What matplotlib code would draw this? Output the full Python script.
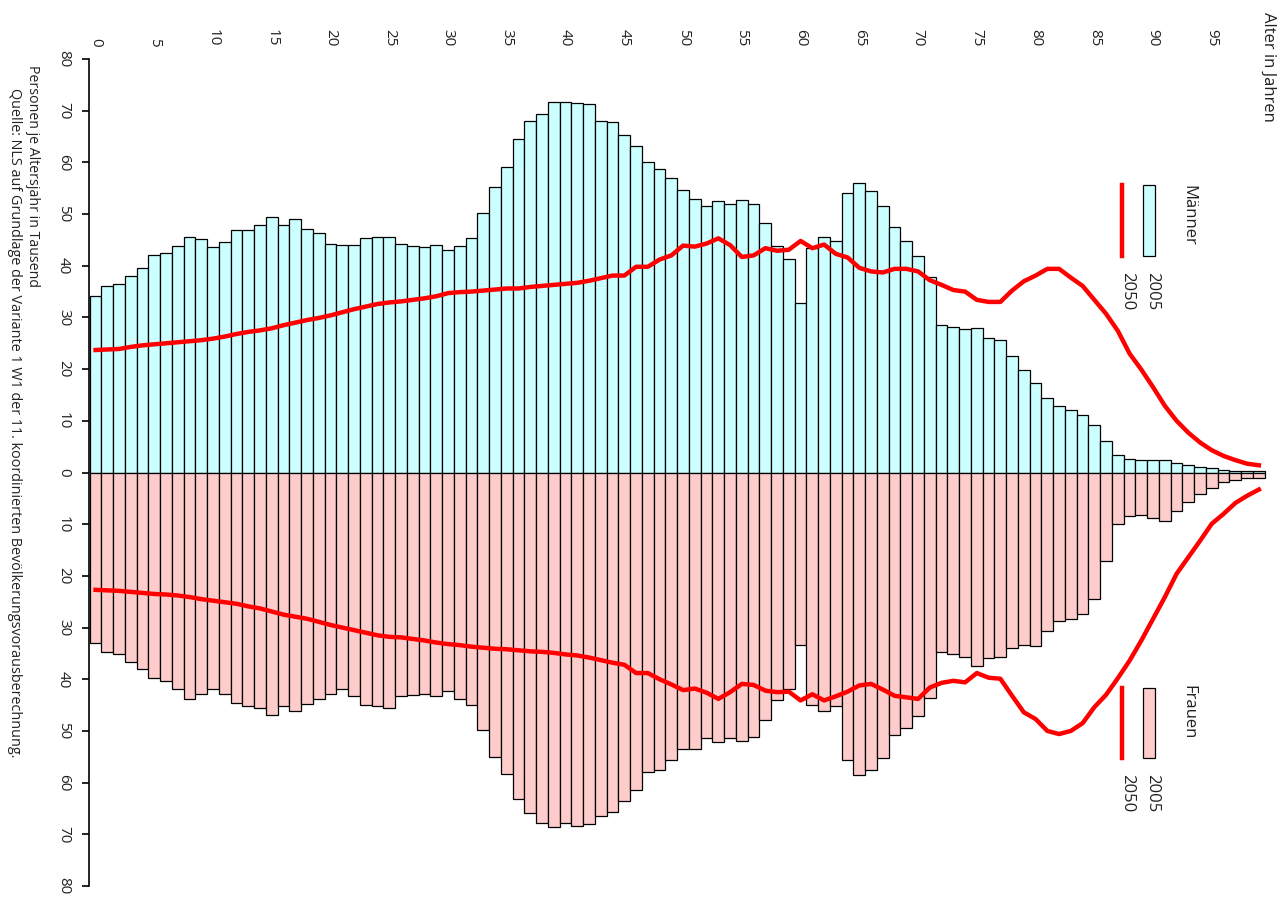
import matplotlib.pyplot as plt
import numpy as np
from matplotlib.patches import Rectangle
from matplotlib.lines import Line2D

# Bevoelkerungspyramide 2005 / 2050, Personen je Altersjahr in Tausend
ages = np.arange(0, 100)

maenner_2005 = [
    34.2, 36.1, 36.4, 38.1, 39.5, 42.0, 42.5, 43.9, 45.6, 45.1,
    43.6, 44.5, 47.0, 47.0, 47.8, 49.4, 47.8, 49.0, 47.2, 46.4,
    44.2, 44.0, 44.0, 45.4, 45.6, 45.6, 44.2, 43.9, 43.6, 44.1,
    43.1, 43.9, 45.3, 50.3, 55.3, 59.2, 64.5, 68.1, 69.4, 71.6,
    71.6, 71.4, 71.2, 68.1, 67.8, 65.3, 63.2, 60.0, 58.7, 56.9,
    54.7, 53.0, 51.6, 52.5, 51.9, 52.7, 51.9, 48.3, 43.9, 41.4,
    32.7, 43.5, 45.6, 44.7, 54.0, 56.1, 54.4, 51.6, 47.5, 44.7,
    41.9, 37.8, 28.6, 28.1, 27.8, 28.0, 26.1, 25.6, 22.5, 19.8,
    17.4, 14.5, 12.8, 12.1, 11.1, 9.2, 6.1, 3.3, 2.7, 2.4,
    2.4, 2.4, 1.9, 1.4, 1.0, 0.8, 0.5, 0.3, 0.3, 0.3,
]
maenner_2050 = [
    23.7, 23.8, 23.9, 24.3, 24.6, 24.8, 25.0, 25.2, 25.4, 25.6,
    25.9, 26.3, 26.8, 27.2, 27.5, 27.9, 28.5, 29.0, 29.5, 29.9,
    30.4, 31.0, 31.6, 32.1, 32.6, 32.9, 33.1, 33.4, 33.7, 34.1,
    34.7, 34.9, 35.0, 35.2, 35.4, 35.6, 35.6, 35.9, 36.1, 36.3,
    36.5, 36.7, 37.1, 37.6, 38.1, 38.1, 39.8, 39.8, 41.2, 42.0,
    43.9, 43.7, 44.3, 45.3, 44.0, 41.7, 42.0, 43.4, 42.9, 43.1,
    44.8, 43.4, 44.1, 42.3, 41.6, 39.6, 38.9, 38.7, 39.4, 39.4,
    38.9, 37.2, 36.3, 35.3, 35.0, 33.4, 33.0, 33.0, 35.2, 37.0,
    38.1, 39.4, 39.4, 37.7, 36.1, 33.4, 30.7, 27.4, 23.0, 19.9,
    16.5, 12.9, 10.0, 7.7, 5.8, 4.3, 3.2, 2.4, 1.7, 1.4,
]
frauen_2005 = [
    33.0, 34.7, 35.2, 36.7, 38.0, 39.7, 40.3, 41.9, 43.9, 42.8,
    41.9, 42.8, 44.5, 45.2, 45.6, 46.9, 45.2, 46.1, 44.7, 43.9,
    42.8, 41.9, 43.3, 45.0, 45.2, 45.6, 43.3, 43.0, 42.8, 43.3,
    42.2, 43.9, 45.0, 49.8, 55.0, 58.3, 63.1, 65.8, 67.8, 68.6,
    67.8, 68.3, 68.1, 66.4, 65.6, 63.6, 61.4, 58.0, 57.5, 55.6,
    53.4, 53.4, 51.4, 52.2, 51.4, 51.9, 51.1, 47.8, 44.1, 41.9,
    33.3, 45.0, 46.1, 45.2, 55.6, 58.6, 57.5, 55.3, 50.8, 49.4,
    47.2, 43.6, 34.7, 35.2, 35.6, 37.5, 35.8, 35.6, 33.9, 33.3,
    33.6, 30.7, 28.8, 28.3, 27.4, 24.4, 17.2, 9.9, 8.5, 8.3,
    8.8, 9.4, 7.4, 5.7, 4.1, 3.0, 1.8, 1.5, 1.0, 1.0,
]
frauen_2050 = [
    22.7, 22.8, 22.9, 23.1, 23.3, 23.5, 23.6, 23.8, 24.1, 24.5,
    24.8, 25.1, 25.4, 25.9, 26.3, 26.9, 27.5, 27.9, 28.3, 28.9,
    29.5, 30.0, 30.5, 31.0, 31.5, 31.8, 31.9, 32.2, 32.5, 32.9,
    33.2, 33.4, 33.7, 33.9, 34.1, 34.2, 34.4, 34.6, 34.7, 34.9,
    35.2, 35.4, 35.8, 36.3, 36.8, 37.2, 38.8, 38.8, 40.0, 41.0,
    42.1, 41.8, 42.6, 43.8, 42.5, 40.9, 41.1, 42.2, 42.5, 42.4,
    44.1, 42.9, 44.1, 43.3, 42.4, 41.2, 40.9, 42.0, 43.2, 43.5,
    43.8, 41.6, 40.7, 40.3, 40.6, 38.8, 39.7, 39.9, 43.2, 46.4,
    47.7, 50.0, 50.6, 50.0, 48.5, 45.4, 43.0, 39.8, 36.4, 32.5,
    28.3, 24.1, 19.6, 16.4, 13.2, 9.9, 8.0, 5.9, 4.5, 3.3,
]

age_ticks = np.arange(0, 100, 5)
value_ticks = np.arange(-80, 81, 10)

CYAN = '#ccffff'
PINK = '#ffcccc'
RED = '#ff0000'
TXT = '#222222'

plt.rcParams['font.family'] = ['Open Sans', 'DejaVu Sans']


def fx(x):
    return x / 1280


def fy(y):
    return 1 - y / 900


fig = plt.figure(figsize=(12.8, 9), dpi=100)
ax = fig.add_axes([fx(89), fy(886), 1191 / 1280, 827 / 900])

ax.bar(ages, maenner_2005, width=1, color=CYAN, edgecolor='black', linewidth=0.9)
ax.bar(ages, -np.array(frauen_2005), width=1, color=PINK, edgecolor='black', linewidth=0.9)
ax.plot(ages, maenner_2050, color=RED, lw=3.2)
ax.plot(ages, -np.array(frauen_2050), color=RED, lw=3.2)

ax.set_xlim(-0.56, 100.8)
ax.set_ylim(-80, 80)
for s in ['top', 'right', 'bottom']:
    ax.spines[s].set_visible(False)
ax.spines['left'].set_linewidth(1.2)

ax.set_yticks(value_ticks)
ax.set_yticklabels([str(abs(v)) for v in value_ticks], rotation=-90,
                   va='center', ha='right', color=TXT, fontsize=11)
ax.tick_params(axis='y', length=5, width=1.2, pad=8)

ax.xaxis.tick_top()
ax.set_xticks(age_ticks)
ax.set_xticklabels([str(a) for a in age_ticks], rotation=-90, color=TXT, fontsize=11)
ax.tick_params(axis='x', length=0, pad=9)

# Legende (gedreht)
for top, bottom, fill, title, ttop in [(185, 256, CYAN, 'Männer', 185),
                                       (688, 758, PINK, 'Frauen', 685)]:
    fig.add_artist(Rectangle((fx(1143), fy(bottom)), 12 / 1280, (bottom - top) / 900,
                             facecolor=fill, edgecolor='black', lw=0.9,
                             transform=fig.transFigure))
    fig.add_artist(Line2D([fx(1122), fx(1122)], [fy(top), fy(bottom)], color=RED, lw=3.2,
                          transform=fig.transFigure))
    fig.text(fx(1188), fy(ttop), title, rotation=-90, ha='center', va='top',
             fontsize=12, color=TXT)
    fig.text(fx(1152), fy(bottom + 16), '2005', rotation=-90, ha='center', va='top',
             fontsize=12, color=TXT)
    fig.text(fx(1127), fy(bottom + 16), '2050', rotation=-90, ha='center', va='top',
             fontsize=12, color=TXT)

fig.text(fx(1268), fy(12), 'Alter in Jahren', rotation=-90, ha='center', va='top',
         fontsize=12, color=TXT)
fig.text(fx(32), fy(65), 'Personen je Altersjahr in Tausend', rotation=-90,
         ha='center', va='top', fontsize=10.2, color=TXT)
fig.text(fx(14), fy(88),
         'Quelle: NLS auf Grundlage der Variante 1 W1 der 11. koordinierten '
         'Bevölkerungsvorausberechnung.',
         rotation=-90, ha='center', va='top', fontsize=10.4, color=TXT)

fig.savefig('out.png', dpi=100)
